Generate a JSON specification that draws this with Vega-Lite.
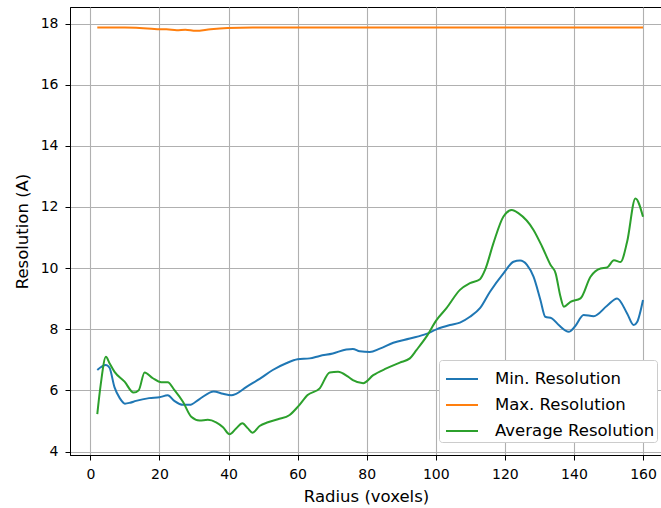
{
  "$schema": "https://vega.github.io/schema/vega-lite/v6.json",
  "autosize": {"type": "none"},
  "padding": {"left": 70, "top": 7, "right": 0, "bottom": 53},
  "width": 592,
  "height": 448,
  "background": "white",
  "config": {
    "font": "DejaVu Sans",
    "view": {"stroke": "black", "strokeWidth": 1},
    "axis": {
      "labelFont": "DejaVu Sans",
      "titleFont": "DejaVu Sans",
      "labelFontSize": 14,
      "titleFontSize": 16.5,
      "titleFontWeight": "normal",
      "labelColor": "black",
      "titleColor": "black",
      "tickColor": "black",
      "domainColor": "black",
      "tickSize": 5,
      "grid": true,
      "gridColor": "#b0b0b0",
      "gridWidth": 1.1
    }
  },
  "data": {
    "values": [
      {"r": 2, "v": 17.87, "s": "Max. Resolution"},
      {"r": 10, "v": 17.87, "s": "Max. Resolution"},
      {"r": 17.7, "v": 17.83, "s": "Max. Resolution"},
      {"r": 20, "v": 17.81, "s": "Max. Resolution"},
      {"r": 22, "v": 17.81, "s": "Max. Resolution"},
      {"r": 25, "v": 17.78, "s": "Max. Resolution"},
      {"r": 27.5, "v": 17.8, "s": "Max. Resolution"},
      {"r": 30.5, "v": 17.76, "s": "Max. Resolution"},
      {"r": 34.8, "v": 17.81, "s": "Max. Resolution"},
      {"r": 39.7, "v": 17.85, "s": "Max. Resolution"},
      {"r": 47, "v": 17.87, "s": "Max. Resolution"},
      {"r": 60, "v": 17.87, "s": "Max. Resolution"},
      {"r": 100, "v": 17.87, "s": "Max. Resolution"},
      {"r": 160, "v": 17.87, "s": "Max. Resolution"},

      {"r": 2, "v": 6.67, "s": "Min. Resolution"},
      {"r": 4.5, "v": 6.83, "s": "Min. Resolution"},
      {"r": 5.5, "v": 6.75, "s": "Min. Resolution"},
      {"r": 7, "v": 6.1, "s": "Min. Resolution"},
      {"r": 8.5, "v": 5.75, "s": "Min. Resolution"},
      {"r": 10, "v": 5.57, "s": "Min. Resolution"},
      {"r": 11.5, "v": 5.6, "s": "Min. Resolution"},
      {"r": 13.2, "v": 5.66, "s": "Min. Resolution"},
      {"r": 17, "v": 5.75, "s": "Min. Resolution"},
      {"r": 20, "v": 5.78, "s": "Min. Resolution"},
      {"r": 22.4, "v": 5.84, "s": "Min. Resolution"},
      {"r": 24.3, "v": 5.66, "s": "Min. Resolution"},
      {"r": 26.8, "v": 5.53, "s": "Min. Resolution"},
      {"r": 28.7, "v": 5.53, "s": "Min. Resolution"},
      {"r": 31.6, "v": 5.72, "s": "Min. Resolution"},
      {"r": 35.7, "v": 5.97, "s": "Min. Resolution"},
      {"r": 38.4, "v": 5.89, "s": "Min. Resolution"},
      {"r": 40.8, "v": 5.84, "s": "Min. Resolution"},
      {"r": 42.2, "v": 5.89, "s": "Min. Resolution"},
      {"r": 45.1, "v": 6.11, "s": "Min. Resolution"},
      {"r": 49, "v": 6.38, "s": "Min. Resolution"},
      {"r": 52.8, "v": 6.67, "s": "Min. Resolution"},
      {"r": 56.7, "v": 6.89, "s": "Min. Resolution"},
      {"r": 60, "v": 7.02, "s": "Min. Resolution"},
      {"r": 63.5, "v": 7.05, "s": "Min. Resolution"},
      {"r": 66.4, "v": 7.13, "s": "Min. Resolution"},
      {"r": 70.2, "v": 7.21, "s": "Min. Resolution"},
      {"r": 74.1, "v": 7.34, "s": "Min. Resolution"},
      {"r": 76, "v": 7.36, "s": "Min. Resolution"},
      {"r": 78, "v": 7.28, "s": "Min. Resolution"},
      {"r": 80.9, "v": 7.26, "s": "Min. Resolution"},
      {"r": 83.8, "v": 7.37, "s": "Min. Resolution"},
      {"r": 87.7, "v": 7.56, "s": "Min. Resolution"},
      {"r": 92.5, "v": 7.7, "s": "Min. Resolution"},
      {"r": 97.3, "v": 7.85, "s": "Min. Resolution"},
      {"r": 100.2, "v": 8.0, "s": "Min. Resolution"},
      {"r": 104.1, "v": 8.14, "s": "Min. Resolution"},
      {"r": 107, "v": 8.22, "s": "Min. Resolution"},
      {"r": 109.9, "v": 8.41, "s": "Min. Resolution"},
      {"r": 112.8, "v": 8.69, "s": "Min. Resolution"},
      {"r": 115.7, "v": 9.23, "s": "Min. Resolution"},
      {"r": 119.6, "v": 9.83, "s": "Min. Resolution"},
      {"r": 122.5, "v": 10.21, "s": "Min. Resolution"},
      {"r": 124.4, "v": 10.25, "s": "Min. Resolution"},
      {"r": 126.4, "v": 10.11, "s": "Min. Resolution"},
      {"r": 128.3, "v": 9.72, "s": "Min. Resolution"},
      {"r": 130.3, "v": 8.96, "s": "Min. Resolution"},
      {"r": 131.7, "v": 8.41, "s": "Min. Resolution"},
      {"r": 133.6, "v": 8.36, "s": "Min. Resolution"},
      {"r": 135.6, "v": 8.14, "s": "Min. Resolution"},
      {"r": 138.5, "v": 7.92, "s": "Min. Resolution"},
      {"r": 140.4, "v": 8.11, "s": "Min. Resolution"},
      {"r": 142.8, "v": 8.47, "s": "Min. Resolution"},
      {"r": 145.7, "v": 8.43, "s": "Min. Resolution"},
      {"r": 149.6, "v": 8.77, "s": "Min. Resolution"},
      {"r": 152.5, "v": 9.01, "s": "Min. Resolution"},
      {"r": 155.4, "v": 8.52, "s": "Min. Resolution"},
      {"r": 157.3, "v": 8.14, "s": "Min. Resolution"},
      {"r": 158.3, "v": 8.24, "s": "Min. Resolution"},
      {"r": 160, "v": 8.96, "s": "Min. Resolution"},

      {"r": 2, "v": 5.23, "s": "Average Resolution"},
      {"r": 3, "v": 6.2, "s": "Average Resolution"},
      {"r": 4.5, "v": 7.1, "s": "Average Resolution"},
      {"r": 5.5, "v": 6.9, "s": "Average Resolution"},
      {"r": 7, "v": 6.61, "s": "Average Resolution"},
      {"r": 9.9, "v": 6.29, "s": "Average Resolution"},
      {"r": 12.5, "v": 5.93, "s": "Average Resolution"},
      {"r": 14, "v": 6.01, "s": "Average Resolution"},
      {"r": 15.7, "v": 6.59, "s": "Average Resolution"},
      {"r": 18.1, "v": 6.4, "s": "Average Resolution"},
      {"r": 20.5, "v": 6.27, "s": "Average Resolution"},
      {"r": 22.4, "v": 6.27, "s": "Average Resolution"},
      {"r": 24.3, "v": 6.02, "s": "Average Resolution"},
      {"r": 26.8, "v": 5.63, "s": "Average Resolution"},
      {"r": 29.2, "v": 5.14, "s": "Average Resolution"},
      {"r": 31.6, "v": 5.02, "s": "Average Resolution"},
      {"r": 34, "v": 5.04, "s": "Average Resolution"},
      {"r": 36.4, "v": 4.96, "s": "Average Resolution"},
      {"r": 38.4, "v": 4.8, "s": "Average Resolution"},
      {"r": 40.3, "v": 4.57, "s": "Average Resolution"},
      {"r": 42.2, "v": 4.76, "s": "Average Resolution"},
      {"r": 44, "v": 4.93, "s": "Average Resolution"},
      {"r": 45.6, "v": 4.76, "s": "Average Resolution"},
      {"r": 46.9, "v": 4.62, "s": "Average Resolution"},
      {"r": 49, "v": 4.84, "s": "Average Resolution"},
      {"r": 51.4, "v": 4.96, "s": "Average Resolution"},
      {"r": 54.3, "v": 5.06, "s": "Average Resolution"},
      {"r": 57.7, "v": 5.2, "s": "Average Resolution"},
      {"r": 60.1, "v": 5.47, "s": "Average Resolution"},
      {"r": 62.9, "v": 5.85, "s": "Average Resolution"},
      {"r": 66.4, "v": 6.07, "s": "Average Resolution"},
      {"r": 69.3, "v": 6.59, "s": "Average Resolution"},
      {"r": 71.7, "v": 6.61, "s": "Average Resolution"},
      {"r": 74.6, "v": 6.45, "s": "Average Resolution"},
      {"r": 76, "v": 6.34, "s": "Average Resolution"},
      {"r": 79, "v": 6.24, "s": "Average Resolution"},
      {"r": 81.9, "v": 6.5, "s": "Average Resolution"},
      {"r": 85.7, "v": 6.72, "s": "Average Resolution"},
      {"r": 89.6, "v": 6.91, "s": "Average Resolution"},
      {"r": 92.5, "v": 7.05, "s": "Average Resolution"},
      {"r": 94.4, "v": 7.32, "s": "Average Resolution"},
      {"r": 97.3, "v": 7.76, "s": "Average Resolution"},
      {"r": 100.2, "v": 8.3, "s": "Average Resolution"},
      {"r": 103.1, "v": 8.69, "s": "Average Resolution"},
      {"r": 107, "v": 9.29, "s": "Average Resolution"},
      {"r": 109.9, "v": 9.51, "s": "Average Resolution"},
      {"r": 112.8, "v": 9.64, "s": "Average Resolution"},
      {"r": 114.3, "v": 9.95, "s": "Average Resolution"},
      {"r": 116.7, "v": 10.82, "s": "Average Resolution"},
      {"r": 119.6, "v": 11.69, "s": "Average Resolution"},
      {"r": 122, "v": 11.9, "s": "Average Resolution"},
      {"r": 124, "v": 11.79, "s": "Average Resolution"},
      {"r": 128.3, "v": 11.25, "s": "Average Resolution"},
      {"r": 130.8, "v": 10.7, "s": "Average Resolution"},
      {"r": 133.2, "v": 10.11, "s": "Average Resolution"},
      {"r": 134.7, "v": 9.83, "s": "Average Resolution"},
      {"r": 136.1, "v": 9.07, "s": "Average Resolution"},
      {"r": 137.1, "v": 8.74, "s": "Average Resolution"},
      {"r": 139, "v": 8.9, "s": "Average Resolution"},
      {"r": 141.9, "v": 9.01, "s": "Average Resolution"},
      {"r": 144.8, "v": 9.72, "s": "Average Resolution"},
      {"r": 147.7, "v": 9.99, "s": "Average Resolution"},
      {"r": 149.6, "v": 10.02, "s": "Average Resolution"},
      {"r": 151.6, "v": 10.26, "s": "Average Resolution"},
      {"r": 153.5, "v": 10.2, "s": "Average Resolution"},
      {"r": 155.4, "v": 10.86, "s": "Average Resolution"},
      {"r": 157.8, "v": 12.28, "s": "Average Resolution"},
      {"r": 160, "v": 11.68, "s": "Average Resolution"}
    ]
  },
  "mark": {"type": "line", "interpolate": "monotone", "strokeWidth": 2, "clip": true},
  "encoding": {
    "x": {
      "field": "r",
      "type": "quantitative",
      "scale": {"domain": [-5.9, 165.5], "nice": false, "zero": false},
      "axis": {"values": [0, 20, 40, 60, 80, 100, 120, 140, 160], "title": "Radius (voxels)", "labelPadding": 7, "titlePadding": 7}
    },
    "y": {
      "field": "v",
      "type": "quantitative",
      "scale": {"domain": [3.89, 18.54], "nice": false, "zero": false},
      "axis": {"values": [4, 6, 8, 10, 12, 14, 16, 18], "title": "Resolution (A)", "labelPadding": 7, "titlePadding": 10}
    },
    "color": {
      "field": "s",
      "type": "nominal",
      "sort": ["Min. Resolution", "Max. Resolution", "Average Resolution"],
      "scale": {"domain": ["Min. Resolution", "Max. Resolution", "Average Resolution"], "range": ["#1f77b4", "#ff7f0e", "#2ca02c"]},
      "legend": {
        "title": null,
        "orient": "none",
        "legendX": 369,
        "legendY": 353,
        "symbolType": "stroke",
        "symbolSize": 1024,
        "symbolStrokeWidth": 2,
        "symbolOffset": 4,
        "labelFont": "DejaVu Sans",
        "labelFontSize": 16.5,
        "labelColor": "black",
        "fillColor": "white",
        "strokeColor": "#cccccc",
        "cornerRadius": 3,
        "padding": 2,
        "rowPadding": 0,
        "labelOffset": 16
      }
    }
  }
}
